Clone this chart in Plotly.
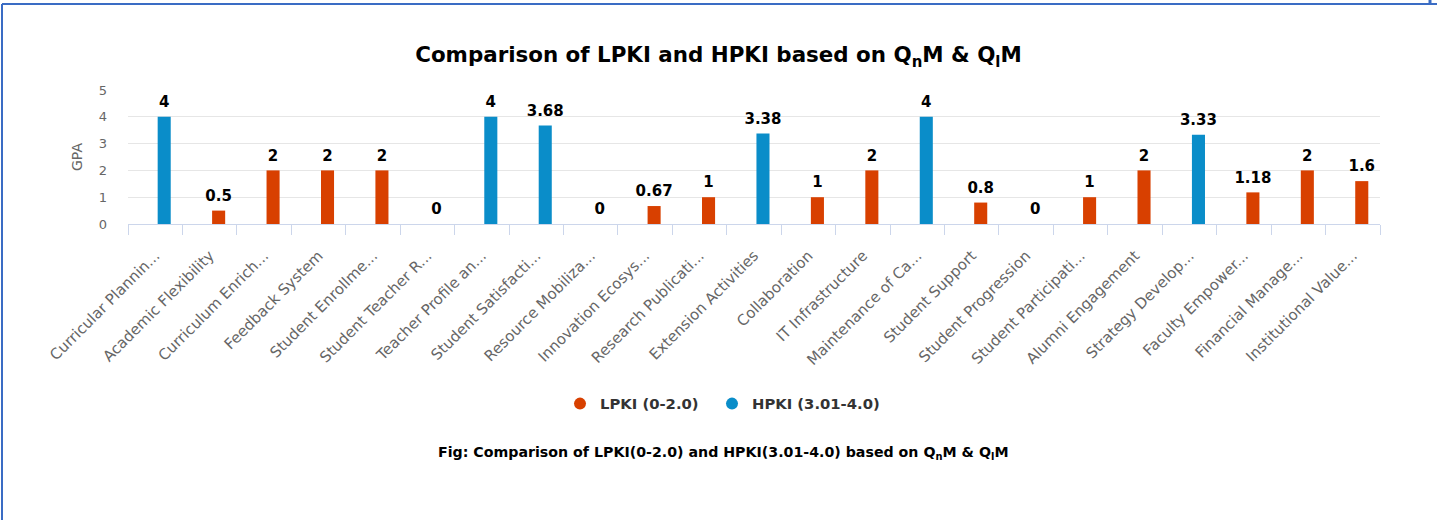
import plotly.graph_objects as go

categories = [
    "Curricular Plannin...", "Academic Flexibility", "Curriculum Enrich...", "Feedback System",
    "Student Enrollme...", "Student Teacher R...", "Teacher Profile an...", "Student Satisfacti...",
    "Resource Mobiliza...", "Innovation Ecosys...", "Research Publicati...", "Extension Activities",
    "Collaboration", "IT Infrastructure", "Maintenance of Ca...", "Student Support",
    "Student Progression", "Student Participati...", "Alumni Engagement", "Strategy Develop...",
    "Faculty Empower...", "Financial Manage...", "Institutional Value...",
]
lpki = [None, 0.5, 2, 2, 2, 0, None, None, 0, 0.67, 1, None, 1, 2, None, 0.8, 0, 1, 2, None, 1.18, 2, 1.6]
hpki = [4, None, None, None, None, None, 4, 3.68, None, None, None, 3.38, None, None, 4, None, None, None, None, 3.33, None, None, None]
series_names = ["LPKI (0-2.0)", "HPKI (3.01-4.0)"]
colors = ["#d84000", "#0a8dc9"]

FONT = "DejaVu Sans"
BAR_W = 0.24
BAR_OFF = 0.045

fig = go.Figure()
n = len(categories)
legend_ids = ["legend", "legend2"]
for vals, name, col, lg in zip([lpki, hpki], series_names, colors, legend_ids):
    fig.add_trace(go.Bar(
        x=categories, y=vals, name=name, marker_color=col, marker_line_width=0,
        width=BAR_W, offset=BAR_OFF, showlegend=False, hoverinfo="x+y",
    ))
    # data labels, positioned over each bar's centre on a hidden numeric twin axis
    idx = [i for i, v in enumerate(vals) if v is not None]
    fig.add_trace(go.Scatter(
        x=[i + BAR_OFF + BAR_W / 2 for i in idx], y=[vals[i] for i in idx], xaxis="x2",
        mode="markers+text", text=[f"{vals[i]:g}" for i in idx], textposition="top center",
        marker=dict(size=8, opacity=0, color=col),
        textfont=dict(family=FONT, size=15, color="#000000", weight="bold"),
        showlegend=False, hoverinfo="skip", cliponaxis=False,
    ))
    fig.add_trace(go.Scatter(
        x=[None], y=[None], mode="markers", name=name, legend=lg,
        marker=dict(symbol="circle", size=15, color=col),
    ))

L, R, T, B = 128, 57, 90, 296
W, H = 1437, 520
pw = W - L - R
ph = H - T - B

def px_x(x):
    return (x - L) / pw

def px_y(y):
    return (H - B - y) / ph

legend_style = dict(
    orientation="h", xanchor="left", yanchor="middle",
    font=dict(family=FONT, size=14.8, color="#333333", weight="bold"),
    itemsizing="constant", bgcolor="rgba(0,0,0,0)", borderwidth=0,
)

fig.update_layout(
    width=W, height=H,
    margin=dict(l=L, r=R, t=T, b=B, autoexpand=False),
    paper_bgcolor="white", plot_bgcolor="white",
    barmode="overlay",
    font=dict(family=FONT, color="#666666"),
    title=dict(
        text="<b>Comparison of LPKI and HPKI based on Q<sub>n</sub>M &amp; Q<sub>l</sub>M</b>",
        x=0.5, xanchor="center", xref="container",
        y=1 - 55 / H, yanchor="middle", yref="container",
        font=dict(family=FONT, size=21.4, color="#000000"),
    ),
    xaxis=dict(
        type="category", tickangle=-45, tickson="boundaries",
        ticks="outside", ticklen=10, tickcolor="#ccd6eb",
        showline=True, linecolor="#ccd6eb", linewidth=1,
        showgrid=False, ticklabelstandoff=16, automargin=False,
        range=[-0.5, n - 0.5],
        tickfont=dict(family=FONT, size=15, color="#666666"),
    ),
    xaxis2=dict(
        overlaying="x", range=[-0.5, n - 0.5], visible=False, showgrid=False,
    ),
    yaxis=dict(
        range=[0, 5], dtick=1, showgrid=True, gridcolor="#e6e6e6",
        zeroline=False, showline=False, ticks="",
        ticklabelstandoff=20, automargin=False,
        tickfont=dict(family=FONT, size=13, color="#666666"),
        title=dict(text="GPA", font=dict(family=FONT, size=14, color="#666666"), standoff=12),
    ),
    legend=dict(legend_style, x=px_x(560), y=px_y(404)),
    legend2=dict(legend_style, x=px_x(712), y=px_y(404)),
    annotations=[dict(
        text="<b>Fig: Comparison of LPKI(0-2.0) and HPKI(3.01-4.0) based on Q<sub>n</sub>M &amp; Q<sub>l</sub>M</b>",
        xref="paper", yref="paper", x=px_x(723), y=px_y(453),
        xanchor="center", yanchor="middle", showarrow=False,
        font=dict(family=FONT, size=14.2, color="#000000"),
    )],
    shapes=[
        dict(type="line", xref="paper", yref="paper", x0=px_x(2), x1=px_x(2),
             y0=px_y(4), y1=px_y(530), line=dict(color="#3a6cc4", width=2)),
        dict(type="line", xref="paper", yref="paper", x0=px_x(2), x1=px_x(1440),
             y0=px_y(4), y1=px_y(4), line=dict(color="#3a6cc4", width=2)),
        dict(type="line", xref="paper", yref="paper", x0=px_x(1430), x1=px_x(1430),
             y0=px_y(-2), y1=px_y(4), line=dict(color="#3a6cc4", width=3)),
    ],
)

fig.write_html("out.html", config={"displayModeBar": False},
               post_script="document.body.style.margin='0px';")
